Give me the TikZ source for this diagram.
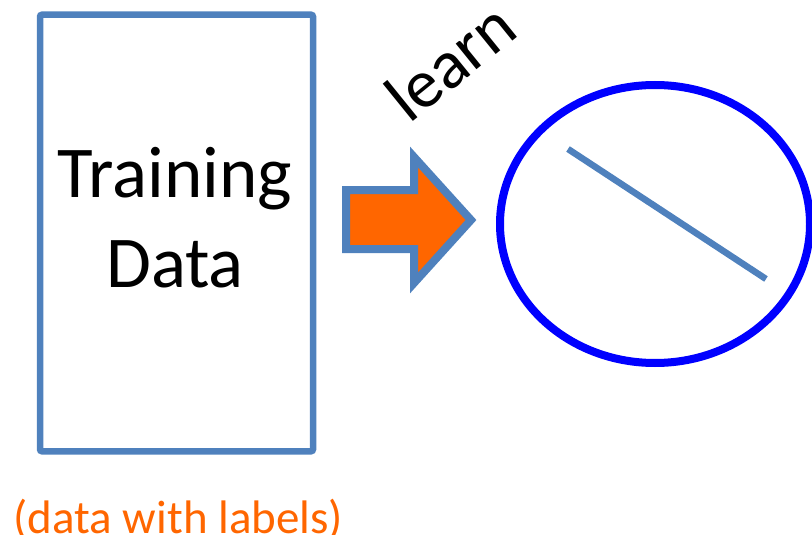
\documentclass[tikz,border=0pt]{standalone}
\usepackage{fontspec}
\setmainfont{Carlito}
\usetikzlibrary{shapes.geometric}
\definecolor{officeblue}{HTML}{4F81BD}
\definecolor{arroworange}{HTML}{FF6600}
\definecolor{pureblue}{HTML}{0000FF}
\begin{document}
\begin{tikzpicture}[x=1pt,y=-1pt,
  databox/.style={draw=officeblue, line width=6.5pt, rounded corners=2pt,
    minimum width=273pt, minimum height=436.5pt, inner sep=0pt},
  bigtext/.style={font=\fontsize{73}{86}\selectfont, inner sep=0pt, anchor=base},
  learnlbl/.style={font=\fontsize{69}{80}\selectfont, inner sep=0pt, anchor=base west, rotate=39},
  notelbl/.style={font=\fontsize{47}{56}\selectfont, text=arroworange, inner sep=0pt, anchor=base},
  blockarrow/.style={draw=officeblue, fill=arroworange, line width=8pt, line join=miter},
  model/.style={draw=pureblue, line width=8pt, ellipse, inner sep=0pt},
  boundary/.style={draw=officeblue, line width=6.5pt}
]
\useasboundingbox (0,0) rectangle (812,535);

% training data box and its caption
\node[databox] (box) at (176.5,233) {};
\node[bigtext] (train) at (175,197) {Training};
\node[bigtext] (data) at (175,287) {Data};
\node[notelbl] (note) at (178.5,533) {(data with labels)};

% block arrow pointing to the model
\coordinate (a1) at (346,190);
\coordinate (a2) at (414,190);
\coordinate (a3) at (414,157);
\coordinate (a4) at (471,220);
\coordinate (a5) at (414,283);
\coordinate (a6) at (414,249);
\coordinate (a7) at (346,249);
\draw[blockarrow] (a1) -- (a2) -- (a3) -- (a4) -- (a5) -- (a6) -- (a7) -- cycle;
\node[learnlbl] (learn) at (409,125) {learn};

% learned model: ellipse with a separating line
\node[model, minimum width=310pt, minimum height=278pt] (ell) at (655,224) {};
\coordinate (l1) at (568,149);
\coordinate (l2) at (766,279);
\draw[boundary] (l1) -- (l2);
\end{tikzpicture}
\end{document}
